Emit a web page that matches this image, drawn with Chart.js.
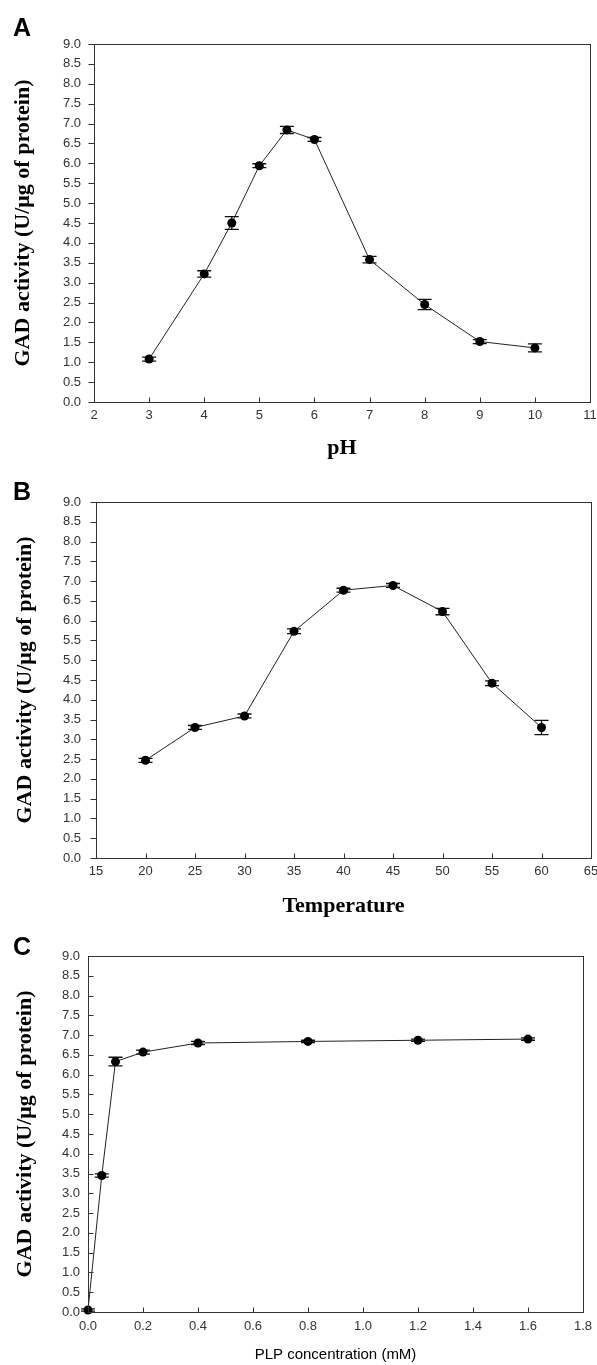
<!DOCTYPE html>
<html>
<head>
<meta charset="utf-8">
<script src="https://cdn.jsdelivr.net/npm/chart.js@4.4.0/dist/chart.umd.min.js"></script>
<style>
  body { margin: 0; background: #fff; width: 597px; height: 1365px; position: relative; overflow: hidden; }
  .panel { position: absolute; left: 0; width: 597px; }
  .letter { position: absolute; left: 13px; font: bold 25px "Liberation Sans", Arial, sans-serif; line-height: 25px; color: #000; }
</style>
</head>
<body>
<div class="panel" style="top:0;height:470px"><canvas id="chartA"></canvas></div>
<div class="panel" style="top:458px;height:470px"><canvas id="chartB"></canvas></div>
<div class="panel" style="top:900px;height:465px"><canvas id="chartC"></canvas></div>
<div class="letter" style="top:15px">A</div>
<div class="letter" style="top:479px">B</div>
<div class="letter" style="top:934px">C</div>

<script>
// A: pH
const phValues = [3, 4, 4.5, 5, 5.5, 6, 7, 8, 9, 10];
const phActivity = [1.08, 3.22, 4.50, 5.94, 6.84, 6.60, 3.58, 2.45, 1.52, 1.36];
const phError = [0.05, 0.08, 0.16, 0.05, 0.09, 0.05, 0.08, 0.13, 0.05, 0.10];

// B: temperature
const tempValues = [20, 25, 30, 35, 40, 45, 50, 55, 60];
const tempActivity = [2.47, 3.30, 3.59, 5.73, 6.77, 6.89, 6.23, 4.42, 3.30];
const tempError = [0.05, 0.05, 0.05, 0.06, 0.05, 0.05, 0.08, 0.06, 0.18];

// C: PLP concentration (mM)
const plpValues = [0, 0.05, 0.1, 0.2, 0.4, 0.8, 1.2, 1.6];
const plpActivity = [0.05, 3.45, 6.33, 6.57, 6.80, 6.84, 6.87, 6.90];
const plpError = [0.03, 0.04, 0.11, 0.05, 0.04, 0.03, 0.03, 0.03];

const yTitle = 'GAD activity (U/\u03BCg of protein)';
const tickFont = { family: '"Liberation Sans", Arial, sans-serif', size: 13 };
const serifBold = { family: '"Liberation Serif", "Times New Roman", serif', size: 22, weight: 'bold' };

// box round the plot area + short tick marks (in or out)
const framePlugin = {
  id: 'frame',
  afterDraw(chart, args, opts) {
    const { ctx, chartArea: a, scales } = chart;
    ctx.save();
    ctx.strokeStyle = '#333';
    ctx.lineWidth = 1;
    ctx.strokeRect(Math.round(a.left) + 0.5, Math.round(a.top) + 0.5,
      Math.round(a.right - a.left), Math.round(a.bottom - a.top));
    ctx.beginPath();
    scales.x.ticks.forEach(t => {
      const px = Math.round(scales.x.getPixelForValue(t.value)) + 0.5;
      const y0 = Math.round(a.bottom) + 0.5;
      ctx.moveTo(px, y0);
      ctx.lineTo(px, opts.xIn ? y0 - 5 : y0 + 5);
    });
    scales.y.ticks.forEach(t => {
      const py = Math.round(scales.y.getPixelForValue(t.value)) + 0.5;
      const x0 = Math.round(a.left) + 0.5;
      ctx.moveTo(x0, py);
      ctx.lineTo(opts.yIn ? x0 + 5 : x0 - 6, py);
    });
    ctx.stroke();
    ctx.restore();
  }
};

// vertical error bars with caps
const errorBarPlugin = {
  id: 'errorBars',
  beforeDatasetsDraw(chart) {
    const { ctx, scales } = chart;
    chart.data.datasets.forEach((ds, di) => {
      const meta = chart.getDatasetMeta(di);
      ctx.save();
      ctx.strokeStyle = '#111';
      ctx.lineWidth = 1.3;
      meta.data.forEach((pt, i) => {
        const v = ds.data[i].y, e = ds.errors[i];
        const yTop = scales.y.getPixelForValue(v + e);
        const yBot = scales.y.getPixelForValue(v - e);
        ctx.beginPath();
        ctx.moveTo(pt.x, yTop); ctx.lineTo(pt.x, yBot);
        ctx.moveTo(pt.x - 7, yTop); ctx.lineTo(pt.x + 7, yTop);
        ctx.moveTo(pt.x - 7, yBot); ctx.lineTo(pt.x + 7, yBot);
        ctx.stroke();
      });
      ctx.restore();
    });
  }
};

function makeChart(id, xs, ys, errs, c) {
  return new Chart(document.getElementById(id), {
    type: 'line',
    data: {
      datasets: [{
        data: xs.map((x, i) => ({ x: x, y: ys[i] })),
        errors: errs,
        borderColor: '#222',
        borderWidth: 1,
        tension: 0,
        pointRadius: 4.5,
        pointBackgroundColor: '#000',
        pointBorderColor: '#000',
        pointBorderWidth: 0,
        clip: false
      }]
    },
    options: {
      responsive: true,
      maintainAspectRatio: false,
      animation: false,
      layout: { padding: c.padding },
      plugins: {
        legend: { display: false },
        tooltip: { enabled: false },
        frame: { xIn: c.xIn, yIn: c.yIn }
      },
      scales: {
        x: {
          type: 'linear',
          min: c.xMin, max: c.xMax,
          grid: { display: false, drawTicks: false },
          border: { display: false },
          ticks: {
            stepSize: c.xStep, autoSkip: false, maxRotation: 0,
            font: tickFont, color: '#333', padding: c.xPad,
            callback: c.xFmt
          },
          title: { display: true, text: c.xTitle, font: c.xTitleFont, color: '#000', padding: { top: 0, bottom: c.xTitlePad } },
          afterFit: s => { s.height = c.xHeight; s.paddingLeft = 0; s.paddingRight = 0; }
        },
        y: {
          min: 0, max: 9,
          grid: { display: false, drawTicks: false },
          border: { display: false },
          ticks: {
            stepSize: 0.5, autoSkip: false,
            font: tickFont, color: '#333', padding: c.yPad,
            callback: v => Number(v).toFixed(1)
          },
          title: { display: true, text: yTitle, font: serifBold, color: '#000', padding: { top: c.yTitlePad, bottom: 0 } },
          afterFit: s => { s.width = c.yWidth; }
        }
      }
    },
    plugins: [errorBarPlugin, framePlugin]
  });
}

makeChart('chartA', phValues, phActivity, phError, {
  padding: { top: 44, right: 7, left: 0, bottom: 0 },
  xMin: 2, xMax: 11, xStep: 1, xFmt: v => String(v),
  xTitle: 'pH', xTitleFont: serifBold, xTitlePad: 8,
  xHeight: 68, yWidth: 94, xPad: 6, yPad: 13, yTitlePad: 10,
  xIn: true, yIn: false
});

makeChart('chartB', tempValues, tempActivity, tempError, {
  padding: { top: 44, right: 6, left: 0, bottom: 0 },
  xMin: 15, xMax: 65, xStep: 5, xFmt: v => String(v),
  xTitle: 'Temperature', xTitleFont: serifBold, xTitlePad: 8,
  xHeight: 70, yWidth: 96, xPad: 6, yPad: 15, yTitlePad: 12,
  xIn: true, yIn: false
});

makeChart('chartC', plpValues, plpActivity, plpError, {
  padding: { top: 56, right: 14, left: 0, bottom: 0 },
  xMin: 0, xMax: 1.8, xStep: 0.2, xFmt: v => Number(v).toFixed(1),
  xTitle: 'PLP concentration (mM)',
  xTitleFont: { family: '"Liberation Sans", Arial, sans-serif', size: 15 }, xTitlePad: 1,
  xHeight: 53, yWidth: 88, xPad: 7, yPad: 8, yTitlePad: 12,
  xIn: true, yIn: true
});
</script>
</body>
</html>
